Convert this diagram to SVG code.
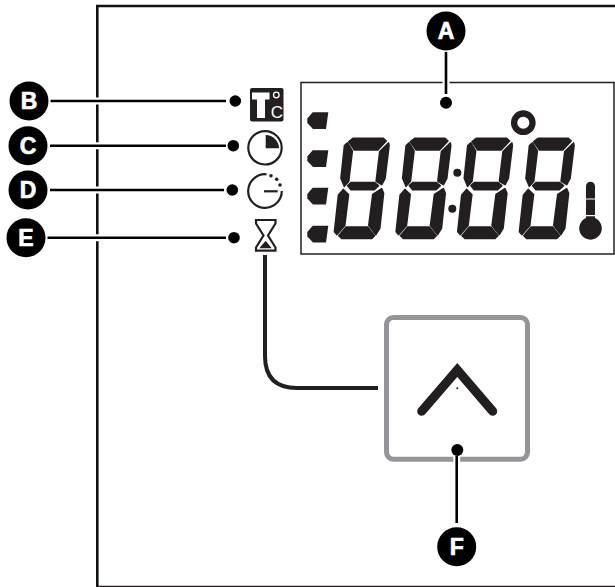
<svg xmlns="http://www.w3.org/2000/svg" xmlns:xlink="http://www.w3.org/1999/xlink" width="615" height="587" viewBox="0 0 615 587">
<style>
.ink{fill:#231f20}
.seg{fill:#231f20;stroke:#231f20;stroke-width:1.7;stroke-linejoin:round}
.line{fill:none;stroke:#000;stroke-width:2.600}
.halo{fill:none;stroke:#fff;stroke-width:7}
.dot{fill:#000}
.badge{fill:#000}
.lbl{font-family:"Liberation Sans",Arial,sans-serif;font-weight:700;font-size:23px;fill:#fff;stroke:#fff;stroke-width:.7;text-anchor:middle}
.thin{fill:none;stroke:#231f20;stroke-width:2.200}
</style>
<defs>
<g id="digit" class="seg">
<path d="M348.800 141.700 353 138.300H383.300L386.200 141 377.700 149.800H354.300Z"/>
<path d="M388.500 143 389 145.700 385 178.300 381.700 184.500 376.200 181.200 379.800 151.500Z"/>
<path d="M347.500 143 352.300 151 348.700 181.200 344.300 186.300 341 178.300 344.500 145.700Z"/>
<path d="M347.700 185.700 351 182.500H374.300L378.500 185.700 374.300 189.700H351Z"/>
<path d="M343.300 189.500 348.500 194.500 344.700 225.500 336.900 234.500 334.500 231.700 338.500 195Z"/>
<path d="M381.700 188.800 383.500 193.300 379.700 228.300 375.800 234.500 368.800 225.500 372.800 194.500Z"/>
<path d="M345.900 227.200H367.700L374.500 235.700 371.700 238.500H341.700L338.800 235.700Z"/>
</g>
<path id="flag" class="ink" d="M307.300 118.500V123L313 129H326L328.300 112.300H312.700Z"/>
</defs>
<rect width="615" height="587" fill="#fff"/>
<g id="frame">
<path d="M97.300 587V6H615" fill="none" stroke="#111" stroke-width="2.600"/>
<path d="M97.300 586.500H615" fill="none" stroke="#231f20" stroke-width="1.500"/>
</g>
<g id="display">
<rect x="301" y="82.500" width="313" height="171.500" fill="#fff" stroke="#231f20" stroke-width="1.500"/>
<use xlink:href="#digit" href="#digit"/>
<use xlink:href="#digit" href="#digit" x="61.700"/>
<use xlink:href="#digit" href="#digit" x="123.300"/>
<use xlink:href="#digit" href="#digit" x="185"/>
<circle class="ink" cx="457.300" cy="172.700" r="4"/>
<circle class="ink" cx="452.300" cy="208.700" r="4"/>
<use xlink:href="#flag" href="#flag"/>
<use xlink:href="#flag" href="#flag" y="38"/>
<use xlink:href="#flag" href="#flag" y="75.500"/>
<use xlink:href="#flag" href="#flag" y="113.500"/>
<circle cx="523.300" cy="122.700" r="9.200" fill="none" stroke="#231f20" stroke-width="6.300"/>
<path class="ink" d="M586 186.200a4.500 4.500 0 0 1 9 0V198.500H586ZM586 199.500H595V215H586ZM586 216.200H595V218a11.300 11.300 0 1 1-9 0Z"/>
</g>
<g id="icon-temp">
<rect class="ink" x="250" y="88" width="33.500" height="33.500" rx="2"/>
<path fill="#fff" d="M252 92.500H269.500V99.500H265V118H257V99.500H252Z"/>
<circle cx="276.300" cy="95" r="2.800" fill="none" stroke="#fff" stroke-width="1.300"/>
<text x="276.800" y="118" font-family="'Liberation Sans',Arial,sans-serif" font-size="17" fill="#fff" text-anchor="middle">C</text>
</g>
<g id="icon-clock">
<circle class="thin" cx="265" cy="147.800" r="16.700"/>
<path class="ink" d="M265.700 135A13.300 13.300 0 0 1 279 148.300H265.700Z"/>
</g>
<g id="icon-timer">
<path class="thin" d="M266.500 174.300A16.800 16.800 0 1 0 281.800 191"/>
<path class="thin" d="M264 191.300H277.700"/>
<circle class="ink" cx="271" cy="175.700" r="1.800"/>
<circle class="ink" cx="276.700" cy="179.300" r="1.800"/>
<circle class="ink" cx="280" cy="185" r="1.800"/>
</g>
<g id="icon-hourglass">
<path class="thin" d="M256 220H275.500V223.500L268 235.500 275.500 247.500V250.700H256V247.500L263.500 235.500 256 223.500Z"/>
<path class="ink" d="M265.700 240.700 271.700 248.300H259.300Z"/>
</g>
<g id="button">
<rect x="386.500" y="317.500" width="141" height="141.700" rx="7" fill="#fff" stroke="#939598" stroke-width="5"/>
<path fill="none" stroke="#231f20" stroke-width="9" stroke-linecap="round" stroke-linejoin="miter" d="M421.700 411.300 457.300 370 492.700 411.300"/>
<circle class="ink" cx="457.300" cy="388.300" r="1"/>
</g>
<g id="connectors">
<path class="halo" d="M90 101H105M90 145.700H105M90 190H105M90 237.700H105"/>
<path class="line" d="M50.500 101H226"/>
<path class="line" d="M50 145.700H226"/>
<path class="line" d="M50 190H224"/>
<path class="line" d="M47.500 237.700H226"/>
<path class="halo" d="M446 78V87"/>
<path class="line" d="M446 52V94" stroke-width="2.800"/>
<path class="halo" d="M456.700 456V464"/>
<path class="line" d="M456.700 456V523"/>
<path fill="none" stroke="#231f20" stroke-width="4" d="M265 255V356Q265 388 297 388H378"/>
</g>
<g id="A"><circle class="dot" cx="446" cy="102.700" r="6"/><circle class="badge" cx="446" cy="31" r="19.500"/><text class="lbl" x="446" y="39">A</text></g>
<g id="B"><circle class="dot" cx="235.300" cy="101" r="5.800"/><circle class="badge" cx="29" cy="101" r="19.500"/><text class="lbl" x="29" y="109">B</text></g>
<g id="C"><circle class="dot" cx="233.300" cy="145.700" r="5.800"/><circle class="badge" cx="28" cy="145.700" r="19.500"/><text class="lbl" x="28" y="153.500">C</text></g>
<g id="D"><circle class="dot" cx="232.300" cy="190" r="5.800"/><circle class="badge" cx="28" cy="190" r="19.500"/><text class="lbl" x="28" y="198">D</text></g>
<g id="E"><circle class="dot" cx="234" cy="237.700" r="5.800"/><circle class="badge" cx="26" cy="237.700" r="19.500"/><text class="lbl" x="26" y="245.500">E</text></g>
<g id="F"><circle class="dot" cx="457.300" cy="450" r="6"/><circle class="badge" cx="456.700" cy="546.700" r="19.500"/><text class="lbl" x="456.700" y="554.500">F</text></g>
</svg>
